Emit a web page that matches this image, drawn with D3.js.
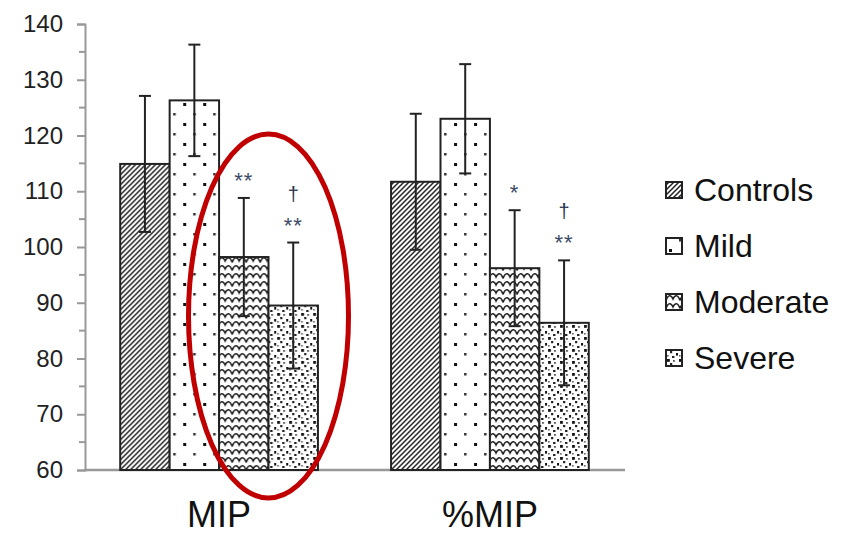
<!DOCTYPE html>
<html><head><meta charset="utf-8">
<script src="https://cdn.jsdelivr.net/npm/d3@7"></script>
<style>body{margin:0;background:#fff}svg{display:block}text{font-family:"Liberation Sans",Arial,sans-serif}</style>
</head><body>
<svg id="chart" width="849" height="536"></svg>
<script>
const groups = ["MIP", "%MIP"];
const series = ["Controls", "Mild", "Moderate", "Severe"];
const meanMIP = [114.9, 126.3, 98.2, 89.5];
const sdMIP = [12.2, 10.0, 10.6, 11.3];
const meanPctMIP = [111.7, 123.0, 96.2, 86.4];
const sdPctMIP = [12.2, 9.8, 10.4, 11.2];
const sigMIP = ["", "", "**", "†\n**"];
const sigPctMIP = ["", "", "*", "†\n**"];
const yTicks = [60, 70, 80, 90, 100, 110, 120, 130, 140];

const data = groups.map((g, gi) => series.map((s, si) => ({
  group: g, series: s,
  mean: gi === 0 ? meanMIP[si] : meanPctMIP[si],
  sd: gi === 0 ? sdMIP[si] : sdPctMIP[si],
  sig: gi === 0 ? sigMIP[si] : sigPctMIP[si]
})));

const svg = d3.select("#chart");
const y = d3.scaleLinear().domain([60, 140]).range([470, 24]);
const x0 = d3.scaleBand().domain(groups).range([85, 624]).paddingInner(0.27).paddingOuter(0.13);
const x1 = d3.scaleBand().domain(series).range([0, x0.bandwidth()]);

// patterns
const defs = svg.append("defs");
const pC = defs.append("pattern").attr("id", "p0").attr("patternUnits", "userSpaceOnUse").attr("width", 5).attr("height", 5);
pC.append("rect").attr("width", 5).attr("height", 5).attr("fill", "#fff");
pC.append("path").attr("d", "M-1,6 L6,-1 M-1,1 L1,-1 M4,6 L6,4").attr("stroke", "#222").attr("stroke-width", 1.5);
const pM = defs.append("pattern").attr("id", "p1").attr("patternUnits", "userSpaceOnUse").attr("width", 20).attr("height", 20);
pM.append("rect").attr("width", 20).attr("height", 20).attr("fill", "#fff");
pM.append("rect").attr("x", 3).attr("y", 3).attr("width", 3).attr("height", 3).attr("fill", "#111");
pM.append("rect").attr("x", 13).attr("y", 13).attr("width", 2.5).attr("height", 2.5).attr("fill", "#333");
const pMo = defs.append("pattern").attr("id", "p2").attr("patternUnits", "userSpaceOnUse").attr("width", 14).attr("height", 8);
pMo.append("rect").attr("width", 14).attr("height", 8).attr("fill", "#fff");
pMo.append("path").attr("d", "M0,6.5 C2,0.5 5,0.5 7,5 C9,0.5 12,0.5 14,6.5").attr("fill", "none").attr("stroke", "#222").attr("stroke-width", 1.6);
const pS = defs.append("pattern").attr("id", "p3").attr("patternUnits", "userSpaceOnUse").attr("width", 12).attr("height", 12);
pS.append("rect").attr("width", 12).attr("height", 12).attr("fill", "#fff");
[[1,1,2.8,"#111"],[7,2,1.8,"#555"],[4,5,2.2,"#222"],[10,7,2.6,"#111"],[1,9,1.6,"#666"],[6,10,2.4,"#222"]].forEach(d =>
  pS.append("rect").attr("x", d[0]).attr("y", d[1]).attr("width", d[2]).attr("height", d[2]).attr("fill", d[3]));

// axes
const axisColor = "#999";
const yAxis = svg.append("g").attr("transform", "translate(85,0)")
  .call(d3.axisLeft(y).tickValues(yTicks).tickSize(8).tickPadding(14));
yAxis.select(".domain").attr("stroke", axisColor).attr("stroke-width", 2);
yAxis.selectAll(".tick line").attr("stroke", axisColor).attr("stroke-width", 2);
yAxis.selectAll(".tick text").attr("fill", "#222").attr("font-size", 24).attr("font-family", "Liberation Sans, Arial, sans-serif");
const minor = d3.range(65, 140, 10);
svg.append("g").selectAll("line").data(minor).join("line")
  .attr("x1", 79).attr("x2", 85).attr("y1", d => y(d)).attr("y2", d => y(d))
  .attr("stroke", axisColor).attr("stroke-width", 2);
svg.append("line").attr("x1", 84).attr("x2", 625).attr("y1", y(60)).attr("y2", y(60))
  .attr("stroke", axisColor).attr("stroke-width", 2.5);

// bars
const gg = svg.append("g").selectAll("g").data(data).join("g")
  .attr("transform", d => `translate(${x0(d[0].group)},0)`);
gg.selectAll("rect").data(d => d).join("rect")
  .attr("x", d => x1(d.series)).attr("width", x1.bandwidth())
  .attr("y", d => y(d.mean)).attr("height", d => y(60) - y(d.mean))
  .attr("fill", (d, i) => `url(#p${i})`).attr("stroke", "#222").attr("stroke-width", 2);
// error bars
gg.selectAll("g.err").data(d => d).join("g").attr("class", "err").each(function(d) {
  const cx = x1(d.series) + x1.bandwidth() / 2;
  const g = d3.select(this);
  g.append("line").attr("x1", cx).attr("x2", cx).attr("y1", y(d.mean + d.sd)).attr("y2", y(d.mean - d.sd));
  g.append("line").attr("x1", cx - 6).attr("x2", cx + 6).attr("y1", y(d.mean + d.sd)).attr("y2", y(d.mean + d.sd));
  g.append("line").attr("x1", cx - 6).attr("x2", cx + 6).attr("y1", y(d.mean - d.sd)).attr("y2", y(d.mean - d.sd));
  g.selectAll("line").attr("stroke", "#222").attr("stroke-width", 2);
  if (d.sig) {
    const parts = d.sig.split("\n");
    const stars = parts[parts.length - 1];
    const top = y(d.mean + d.sd);
    g.append("text").attr("x", cx).attr("y", top - 10)
      .attr("text-anchor", "middle").attr("font-size", 22).attr("letter-spacing", 1)
      .attr("fill", "#3b4a66").text(stars);
    if (parts.length > 1) {
      g.append("text").attr("x", cx).attr("y", top - 42)
        .attr("text-anchor", "middle").attr("font-size", 20)
        .attr("fill", "#2a3550").text(parts[0]);
    }
  }
});

// x labels
svg.append("g").selectAll("text").data(groups).join("text")
  .attr("x", d => x0(d) + x0.bandwidth() / 2).attr("y", 527)
  .attr("text-anchor", "middle").attr("font-size", 36).attr("fill", "#111").text(d => d);

// legend
const lg = svg.append("g").selectAll("g").data(series).join("g")
  .attr("transform", (d, i) => `translate(666,${190 + i * 56})`);
lg.append("rect").attr("x", 0).attr("y", -8).attr("width", 16).attr("height", 16)
  .attr("fill", (d, i) => `url(#p${i})`).attr("stroke", "#222").attr("stroke-width", 2);
lg.append("text").attr("x", 28).attr("y", 11).attr("font-size", 32).attr("fill", "#111").text(d => d);

// highlight ellipse
svg.append("ellipse").attr("cx", x0("MIP") + x1("Severe")).attr("cy", 316).attr("rx", 80).attr("ry", 182)
  .attr("fill", "none").attr("stroke", "#c00000").attr("stroke-width", 5);
</script>
</body></html>
